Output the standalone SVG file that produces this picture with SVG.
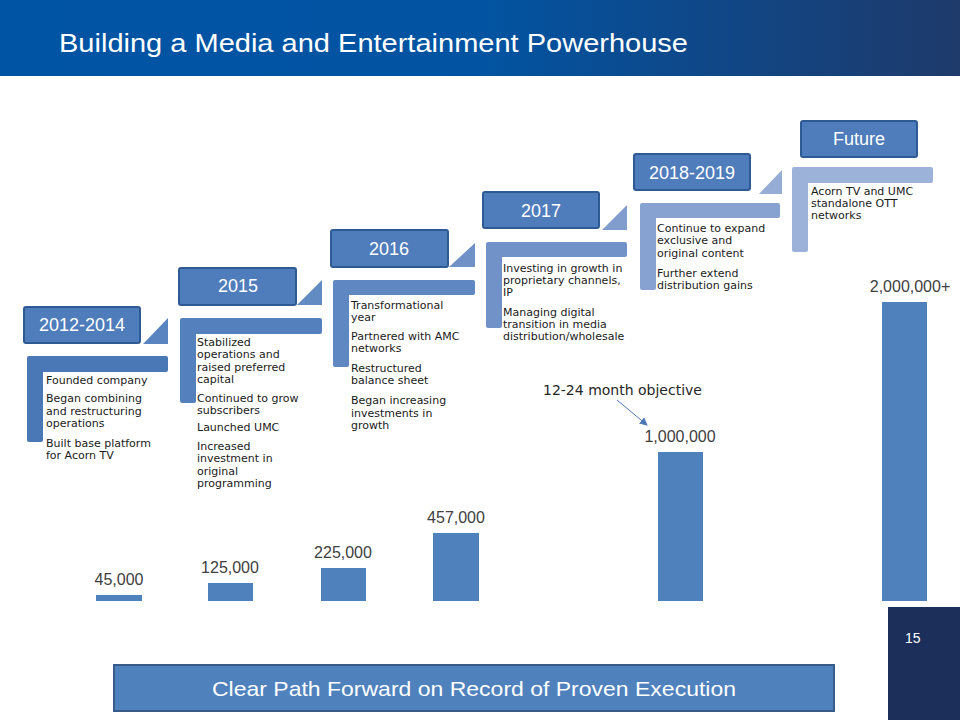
<svg xmlns="http://www.w3.org/2000/svg" width="960" height="720" viewBox="0 0 960 720">
<defs>
<linearGradient id="hdr" x1="0" y1="0" x2="1" y2="0">
<stop offset="0" stop-color="#0054A4"/>
<stop offset="0.5" stop-color="#0254A2"/>
<stop offset="1" stop-color="#1E3A6B"/>
</linearGradient>
<marker id="ah" markerWidth="8" markerHeight="8" refX="7" refY="4" orient="auto" markerUnits="userSpaceOnUse">
<path d="M0,0 L8,4 L0,8 Z" fill="#4A78B5"/>
</marker>
<style>
.box{fill:#4F7CBA;stroke:#2F5B95;stroke-width:2}
.yr{font-family:"Liberation Sans",Arial,sans-serif;font-size:18px;fill:#FFFFFF;text-anchor:middle}
.body{font-family:"DejaVu Sans",Verdana,sans-serif;font-size:11px;fill:#1A1A1A}
.bar{fill:#4F81BD}
.val{font-family:"Liberation Sans",Arial,sans-serif;font-size:16px;fill:#404040;text-anchor:middle}
</style>
</defs>
<rect x="0" y="0" width="960" height="720" fill="#FFFFFF"/>
<g id="header">
<rect x="0" y="0" width="960" height="76" fill="url(#hdr)"/>
<text x="59" y="52" font-family="Liberation Sans, Arial, sans-serif" font-size="25" fill="#FFFFFF" textLength="629" lengthAdjust="spacingAndGlyphs">Building a Media and Entertainment Powerhouse</text>
</g>

<g id="step-2012-2014">
<path d="M27,358 Q27,356 29,356 H166 Q168,356 168,358 V370 Q168,372 166,372 H43 V440 Q43,442 41,442 H29 Q27,442 27,440 Z" fill="#4A77B5"/>
<polygon points="143,344 168,318 168,344" fill="#5A84C0"/>
<rect class="box" x="24" y="307" width="116" height="36" rx="2"/>
<text class="yr" x="82" y="331">2012-2014</text>
<text class="body"><tspan x="46" y="384">Founded company</tspan><tspan x="46" y="402">Began combining</tspan><tspan x="46" y="415">and restructuring</tspan><tspan x="46" y="427">operations</tspan><tspan x="46" y="447">Built base platform</tspan><tspan x="46" y="459">for Acorn TV</tspan></text>
</g>

<g id="step-2015">
<path d="M180,320 Q180,318 182,318 H320 Q322,318 322,320 V332 Q322,334 320,334 H196 V401 Q196,403 194,403 H182 Q180,403 180,401 Z" fill="#5480BD"/>
<polygon points="297,305 322,280 322,305" fill="#628AC3"/>
<rect class="box" x="179" y="268" width="117" height="37" rx="2"/>
<text class="yr" x="238" y="292">2015</text>
<text class="body"><tspan x="197" y="346">Stabilized</tspan><tspan x="197" y="358">operations and</tspan><tspan x="197" y="371">raised preferred</tspan><tspan x="197" y="383">capital</tspan><tspan x="197" y="402">Continued to grow</tspan><tspan x="197" y="414">subscribers</tspan><tspan x="197" y="431">Launched UMC</tspan><tspan x="197" y="450">Increased</tspan><tspan x="197" y="462">investment in</tspan><tspan x="197" y="475">original</tspan><tspan x="197" y="487">programming</tspan></text>
</g>

<g id="step-2016">
<path d="M333,282 Q333,280 335,280 H473 Q475,280 475,282 V293 Q475,295 473,295 H349 V365 Q349,367 347,367 H335 Q333,367 333,365 Z" fill="#5F88C2"/>
<polygon points="449,267 475,243 475,267" fill="#7090C8"/>
<rect class="box" x="331" y="230" width="117" height="37" rx="2"/>
<text class="yr" x="389" y="255">2016</text>
<text class="body"><tspan x="351" y="309">Transformational</tspan><tspan x="351" y="321">year</tspan><tspan x="351" y="340">Partnered with AMC</tspan><tspan x="351" y="352">networks</tspan><tspan x="351" y="372">Restructured</tspan><tspan x="351" y="384">balance sheet</tspan><tspan x="351" y="404">Began increasing</tspan><tspan x="351" y="417">investments in</tspan><tspan x="351" y="429">growth</tspan></text>
</g>

<g id="step-2017">
<path d="M486,244 Q486,242 488,242 H625 Q627,242 627,244 V255 Q627,257 625,257 H502 V326 Q502,328 500,328 H488 Q486,328 486,326 Z" fill="#7192C8"/>
<polygon points="602,230 627,205 627,230" fill="#809DCD"/>
<rect class="box" x="483" y="192" width="116" height="36" rx="2"/>
<text class="yr" x="541" y="217">2017</text>
<text class="body"><tspan x="503" y="272">Investing in growth in</tspan><tspan x="503" y="284">proprietary channels,</tspan><tspan x="503" y="296">IP</tspan><tspan x="503" y="316">Managing digital</tspan><tspan x="503" y="328">transition in media</tspan><tspan x="503" y="340">distribution/wholesale</tspan></text>
</g>

<g id="step-2018-2019">
<path d="M640,205 Q640,203 642,203 H778 Q780,203 780,205 V216 Q780,218 778,218 H656 V288 Q656,290 654,290 H642 Q640,290 640,288 Z" fill="#87A2D1"/>
<polygon points="759,194 782,170 782,194" fill="#96ADD6"/>
<rect class="box" x="634" y="154" width="116" height="36" rx="2"/>
<text class="yr" x="692" y="179">2018-2019</text>
<text class="body"><tspan x="657" y="232">Continue to expand</tspan><tspan x="657" y="244">exclusive and</tspan><tspan x="657" y="257">original content</tspan><tspan x="657" y="277">Further extend</tspan><tspan x="657" y="289">distribution gains</tspan></text>
</g>

<g id="step-future">
<path d="M792,169 Q792,167 794,167 H931 Q933,167 933,169 V181 Q933,183 931,183 H808 V250 Q808,252 806,252 H794 Q792,252 792,250 Z" fill="#9DB2D9"/>
<rect class="box" x="801" y="121" width="116" height="36" rx="2"/>
<text class="yr" x="859" y="145">Future</text>
<text class="body"><tspan x="811" y="195">Acorn TV and UMC</tspan><tspan x="811" y="207">standalone OTT</tspan><tspan x="811" y="219">networks</tspan></text>
</g>

<g id="bar-45000">
<rect class="bar" x="96" y="595" width="46" height="6"/>
<text class="val" x="119" y="585">45,000</text>
</g>
<g id="bar-125000">
<rect class="bar" x="208" y="583" width="45" height="18"/>
<text class="val" x="230" y="573">125,000</text>
</g>
<g id="bar-225000">
<rect class="bar" x="321" y="568" width="45" height="33"/>
<text class="val" x="343" y="558">225,000</text>
</g>
<g id="bar-457000">
<rect class="bar" x="433" y="533" width="46" height="68"/>
<text class="val" x="456" y="523">457,000</text>
</g>
<g id="bar-1000000">
<rect class="bar" x="658" y="452" width="45" height="149"/>
<text class="val" x="680" y="442">1,000,000</text>
</g>
<g id="bar-2000000">
<rect class="bar" x="882" y="302" width="45" height="299"/>
<text class="val" x="910" y="292">2,000,000+</text>
</g>

<g id="objective-label">
<text x="543" y="395" font-family="DejaVu Sans, Verdana, sans-serif" font-size="14" fill="#262626">12-24 month objective</text>
</g>

<g id="connectors">
<line x1="617" y1="400" x2="647" y2="425" stroke="#4A78B5" stroke-width="1" marker-end="url(#ah)"/>
</g>

<g id="banner">
<rect x="114" y="665" width="720" height="46" fill="#4F81BD" stroke="#385D8A" stroke-width="2"/>
<text x="212" y="696" font-family="Liberation Sans, Arial, sans-serif" font-size="21" fill="#FFFFFF" textLength="524" lengthAdjust="spacingAndGlyphs">Clear Path Forward on Record of Proven Execution</text>
</g>

<g id="page-number">
<rect x="888" y="607" width="72" height="113" fill="#1B2F5A"/>
<text x="905" y="643" font-family="Liberation Sans, Arial, sans-serif" font-size="14" fill="#FFFFFF">15</text>
</g>
</svg>
